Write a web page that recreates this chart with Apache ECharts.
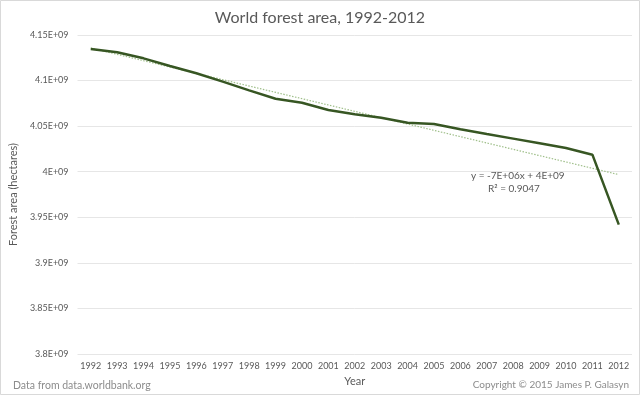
<!DOCTYPE html>
<html>
<head>
<meta charset="utf-8">
<script src="https://cdn.jsdelivr.net/npm/echarts@6/dist/echarts.min.js"></script>
<style>
html,body{margin:0;padding:0;background:#fff;}
#chart{width:640px;height:395px;}
</style>
</head>
<body>
<div id="chart"></div>
<script>
var years = ['1992','1993','1994','1995','1996','1997','1998','1999','2000','2001','2002','2003','2004','2005','2006','2007','2008','2009','2010','2011','2012'];
var forestArea = [4.1346e9, 4.1311e9, 4.1244e9, 4.1160e9, 4.1080e9, 4.0988e9, 4.0893e9, 4.0801e9, 4.0757e9, 4.0677e9, 4.0630e9, 4.0593e9, 4.0538e9, 4.0524e9, 4.0466e9, 4.0414e9, 4.0363e9, 4.0312e9, 4.0260e9, 4.0187e9, 3.9419e9];
var trendStart = 4.1357e9;
var trendEnd = 3.9968e9;
var yTicks = [3.8e9, 3.85e9, 3.9e9, 3.95e9, 4.0e9, 4.05e9, 4.1e9, 4.15e9];

var trendData = years.map(function(y, i){
  if (i === 0) return trendStart;
  if (i === years.length - 1) return trendEnd;
  return null;
});

var font = 'Lato, "Open Sans", sans-serif';
var chart = echarts.init(document.getElementById('chart'), null, {renderer:'canvas'});
chart.setOption({
  backgroundColor: '#fff',
  animation: false,
  title: [
    {text: 'World forest area, 1992-2012', left: 'center', top: 5,
     textStyle: {fontFamily: font, fontSize: 16, fontWeight: 'normal', color: '#595959'}},
    {text: 'Data from data.worldbank.org', left: 8, top: 375,
     textStyle: {fontFamily: font, fontSize: 10.5, fontWeight: 'normal', color: '#8c8c8c'}},
    {text: 'Copyright \u00a9 2015 James P. Galasyn', right: 6, top: 375,
     textStyle: {fontFamily: font, fontSize: 10, fontWeight: 'normal', color: '#8c8c8c'}}
  ],
  grid: {left: 64, right: 8, top: 35, bottom: 41},
  xAxis: {
    type: 'category', data: years, boundaryGap: true,
    name: 'Year', nameLocation: 'middle', nameGap: 20,
    nameTextStyle: {fontFamily: font, fontSize: 11, color: '#595959'},
    axisLine: {show: false}, axisTick: {show: false},
    axisLabel: {fontFamily: font, fontSize: 9, color: '#595959', margin: 8, interval: 0}
  },
  yAxis: {
    type: 'value', min: yTicks[0], max: yTicks[yTicks.length-1], interval: 0.05e9,
    name: 'Forest area (hectares)', nameLocation: 'middle', nameGap: 45,
    nameTextStyle: {fontFamily: font, fontSize: 11, color: '#595959'},
    axisLine: {show: false}, axisTick: {show: false},
    splitLine: {lineStyle: {color: '#e6e6e6', width: 1}},
    axisLabel: {fontFamily: font, fontSize: 9, color: '#595959', margin: 9,
      formatter: function(v){
        var m = Math.round(v / 1e7) / 100;
        return String(m) + 'E+09';
      }}
  },
  series: [
    {type: 'line', data: trendData, connectNulls: true, symbol: 'none', silent: true,
     lineStyle: {color: '#9fbf8a', width: 1.2, type: [1.5, 1.5]}, z: 2},
    {type: 'line', data: forestArea, symbol: 'none', silent: true,
     lineStyle: {color: '#375623', width: 2.5}, z: 3}
  ],
  graphic: [
    {type: 'rect', shape: {x: 0.5, y: 0.5, width: 639, height: 394},
     style: {fill: 'none', stroke: '#d9d9d9', lineWidth: 1}, silent: true},
    {type: 'text', left: 471, top: 171,
     style: {text: 'y = -7E+06x + 4E+09', fontFamily: font, fontSize: 10, fill: '#595959'}},
    {type: 'text', left: 488, top: 184,
     style: {text: 'R\u00b2 = 0.9047', fontFamily: font, fontSize: 10, fill: '#595959'}}
  ]
});
</script>
</body>
</html>
